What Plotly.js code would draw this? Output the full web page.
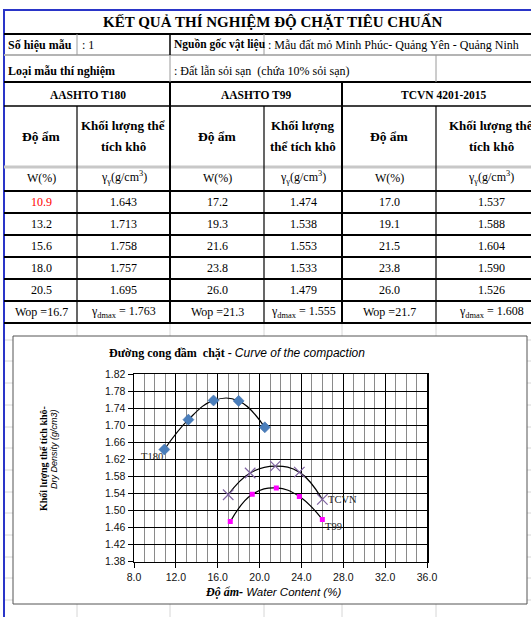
<!DOCTYPE html>
<html><head><meta charset="utf-8">
<script src="https://cdn.plot.ly/plotly-3.0.1.min.js"></script>
<style>html,body{margin:0;padding:0;background:#fff;overflow:hidden}</style>
</head><body><div id="chart" style="width:531px;height:617px"></div>
<script>
// ---------- data ----------
const sheetTitle = 'KẾT QUẢ THÍ NGHIỆM ĐỘ CHẶT TIÊU CHUẨN';
const sampleNoLabel = 'Số hiệu mẫu';
const sampleNo = ': 1';
const originLabel = 'Nguồn gốc vật liệu';
const origin = ': Mẫu đất mỏ Minh Phúc- Quảng Yên - Quảng Ninh';
const sampleTypeLabel = 'Loại mẫu thí nghiệm';
const sampleType = ': Đất lẫn sỏi sạn  (chứa 10% sỏi sạn)';
const standards = ['AASHTO T180', 'AASHTO T99', 'TCVN 4201-2015'];
const curveLabels = ['T180', 'T99', 'TCVN'];
const colMoisture = 'Độ ẩm';
const colDensity = [['Khối lượng thể', 'tích khô'], ['Khối lượng', 'thể tích khô'], ['Khối lượng thể', 'tích khô']];
const unitMoisture = 'W(%)';
const unitDensity = 'γ<sub>γ</sub>(g/cm<sup>3</sup>)';

const w180 = [10.9, 13.2, 15.6, 18.0, 20.5];
const d180 = [1.643, 1.713, 1.758, 1.757, 1.695];
const w99 = [17.2, 19.3, 21.6, 23.8, 26.0];
const d99 = [1.474, 1.538, 1.553, 1.533, 1.479];
const wTCVN = [17.0, 19.1, 21.5, 23.8, 26.0];
const dTCVN = [1.537, 1.588, 1.604, 1.590, 1.526];
const wop = [16.7, 21.3, 21.7];
const gdmax = [1.763, 1.555, 1.608];

const chartTitleVi = 'Đường cong đầm  chặt - ';
const chartTitleEn = 'Curve of the compaction';
const xTitleVi = 'Độ ẩm-';
const xTitleEn = ' Water Content (%)';
const yTitleVi = 'Khối lượng thể tích khô-';
const yTitleEn = 'Dry Density (g/cm3)';

// ---------- helpers ----------
const W = 531, H = 617;
const SERIF = 'Liberation Serif, Times New Roman, serif';
const SANS = 'Liberation Sans, Arial, sans-serif';
const X = p => p / W;
const Y = p => 1 - p / H;
const shapes = [];
const anns = [];
function hl(y, x0, x1, c, w) { shapes.push({type:'line', xref:'paper', yref:'paper', x0:X(x0), x1:X(x1), y0:Y(y), y1:Y(y), line:{color:c, width:w}, layer:'below'}); }
function vl(x, y0, y1, c, w) { shapes.push({type:'line', xref:'paper', yref:'paper', x0:X(x), x1:X(x), y0:Y(y0), y1:Y(y1), line:{color:c, width:w}, layer:'below'}); }
function txt(text, x, y, size, opts) {
  anns.push(Object.assign({xref:'paper', yref:'paper', x:X(x), y:Y(y), text:text, showarrow:false,
    xanchor:'center', yanchor:'middle', font:{family:SERIF, size:size, color:'#000'}}, opts || {}));
}

// ---------- spreadsheet grid ----------
const GRID = '#d6d6d6';
const cols = [5, 77, 170, 264, 342, 436, 546];
const rows = [191, 213, 235, 257, 279, 301, 323];
[340, 361, 383, 405, 427, 448, 470, 492, 513, 535, 557, 578, 600].forEach(y => hl(y, 5, 531, GRID, 1));
[77, 170, 264, 342, 436].forEach(x => vl(x, 323, 617, GRID, 1));

// chart box (covers grid)
shapes.push({type:'rect', xref:'paper', yref:'paper', x0:X(13), x1:X(527), y0:Y(604), y1:Y(336),
  fillcolor:'#fff', line:{color:'#555', width:1}, layer:'below'});

// ---------- table lines ----------
const BLUE = '#2a35c8';
hl(10, 3, 531, BLUE, 2);
vl(4, 9, 617, BLUE, 2);
hl(34, 4, 531, '#000', 2);
hl(55, 4, 531, '#b4b4b4', 2);
hl(82, 4, 531, '#000', 2);
hl(106, 4, 531, '#000', 1.5);
hl(167, 4, 531, '#c8c8c8', 3);
for (let i = 0; i < rows.length; i++) hl(rows[i], 4, 531, '#000', 2);
vl(77, 34, 55, '#9a9a9a', 1); vl(170, 34, 55, '#000', 1.5); vl(264, 34, 55, '#9a9a9a', 1);
vl(170, 55, 82, '#9a9a9a', 1); vl(436, 55, 82, '#9a9a9a', 1);
vl(170, 82, 106, '#000', 2); vl(342, 82, 106, '#000', 2);
[[77,1.2],[170,2],[264,1.2],[342,2],[436,1.2]].forEach(([x,w]) => vl(x, 106, 323, '#000', w));

// ---------- table text ----------
txt('<b>' + sheetTitle + '</b>', 273, 22, 15);
txt('<b>' + sampleNoLabel + '</b>', 6, 45, 12, {xanchor:'left'});
txt(sampleNo, 80, 45, 12, {xanchor:'left'});
txt('<b>' + originLabel + '</b>', 172, 45, 11.5, {xanchor:'left'});
txt(origin, 266, 45, 12, {xanchor:'left'});
txt('<b>' + sampleTypeLabel + '</b>', 6, 71, 12, {xanchor:'left'});
txt(sampleType, 172, 71, 12, {xanchor:'left'});
const centers = [];
for (let i = 0; i < 6; i++) centers.push((cols[i] + cols[i+1]) / 2);
for (let k = 0; k < 3; k++) {
  txt('<b>' + standards[k] + '</b>', (cols[2*k] + cols[2*k+2]) / 2, 95, 11.5);
  txt('<b>' + colMoisture + '</b>', centers[2*k], 136, 13.5);
  txt('<b>' + colDensity[k][0] + '</b>', centers[2*k+1], 126, 13);
  txt('<b>' + colDensity[k][1] + '</b>', centers[2*k+1], 146, 13);
  txt(unitMoisture, centers[2*k], 178, 12);
  txt(unitDensity, centers[2*k+1], 178, 12);
}
const wSets = [w180, w99, wTCVN];
const dSets = [d180, d99, dTCVN];
for (let i = 0; i < 5; i++) {
  const yc = (rows[i] + rows[i+1]) / 2;
  for (let k = 0; k < 3; k++) {
    txt(wSets[k][i].toFixed(1), centers[2*k], yc, 12, (i === 0 && k === 0) ? {font:{family:SERIF, size:12, color:'#ff0000'}} : {});
    txt(dSets[k][i].toFixed(3), centers[2*k+1], yc, 12);
  }
}
for (let k = 0; k < 3; k++) {
  const yc = (rows[5] + rows[6]) / 2;
  txt('Wop =' + wop[k].toFixed(1), centers[2*k], yc, 12);
  txt('γ<sub>dmax</sub> = ' + gdmax[k].toFixed(3), centers[2*k+1], yc, 12);
}

// ---------- chart text ----------
txt('<b>' + chartTitleVi + '</b><span style="font-family:Liberation Sans, Arial, sans-serif"><i>' + chartTitleEn + '</i></span>', 237, 353, 12);
txt('<b><i>' + xTitleVi + '</i></b><span style="font-family:Liberation Sans, Arial, sans-serif;font-size:11.5px"><i>' + xTitleEn + '</i></span>', 273, 592, 12);
txt('<b>' + yTitleVi + '</b>', 43, 459, 10, {textangle:-90});
txt('<i>' + yTitleEn + '</i>', 54, 449, 9, {textangle:-90, font:{family:SANS, size:9, color:'#000'}});

// curve end labels (data coords)
const lblFont = {family:SERIF, size:10.5, color:'#222'};
anns.push({xref:'x', yref:'y', x:w180[0], y:d180[0], text:curveLabels[0], showarrow:false, xanchor:'right', yanchor:'middle', xshift:1, yshift:-7, font:lblFont});
anns.push({xref:'x', yref:'y', x:w99[4], y:d99[4], text:curveLabels[1], showarrow:false, xanchor:'left', yanchor:'middle', xshift:1, yshift:-7, font:lblFont});
anns.push({xref:'x', yref:'y', x:wTCVN[4], y:dTCVN[4], text:curveLabels[2], showarrow:false, xanchor:'left', yanchor:'middle', xshift:4, yshift:0, font:lblFont});

// ---------- traces ----------
const curve = (x, y) => ({x:x, y:y, type:'scatter', mode:'lines', line:{shape:'spline', smoothing:1.2, color:'#000', width:1.2}, hoverinfo:'skip'});
const traces = [
  curve(w180, d180), curve(w99, d99), curve(wTCVN, dTCVN),
  {x:w180, y:d180, type:'scatter', mode:'markers', marker:{symbol:'diamond', size:8.5, color:'#4a7ebb', line:{color:'#3b6aa6', width:0.5}}},
  {x:w99, y:d99, type:'scatter', mode:'markers', marker:{symbol:'square', size:5, color:'#ff00ff'}},
  {x:wTCVN, y:dTCVN, type:'scatter', mode:'markers', marker:{symbol:'x-thin-open', size:10.5, color:'#8064a2', line:{color:'#8064a2', width:1.2}}}
];

const axisCommon = {ticks:'outside', ticklen:5, tickwidth:1, tickcolor:'#000', showgrid:true, gridcolor:'#000', gridwidth:1,
  showline:true, linecolor:'#000', linewidth:1.5, mirror:true, zeroline:false, fixedrange:true,
  tickfont:{family:SANS, size:10.5, color:'#111'}};

const layout = {
  width:W, height:H, margin:{l:0, r:0, t:0, b:0}, paper_bgcolor:'#fff', plot_bgcolor:'rgba(0,0,0,0)', showlegend:false,
  xaxis: Object.assign({}, axisCommon, {domain:[X(134), X(427)], range:[8, 36], tick0:8, dtick:4, tickformat:'.1f',
    minor:{tick0:8, dtick:1, showgrid:true, gridcolor:'#8a8a8a', gridwidth:1}}),
  yaxis: Object.assign({}, axisCommon, {domain:[Y(561.7), Y(374)], range:[1.38, 1.82], tick0:1.38, dtick:0.04, tickformat:'.2f'}),
  shapes: shapes,
  annotations: anns
};
Plotly.newPlot('chart', traces, layout, {staticPlot:true, displayModeBar:false});
</script>
</body></html>
